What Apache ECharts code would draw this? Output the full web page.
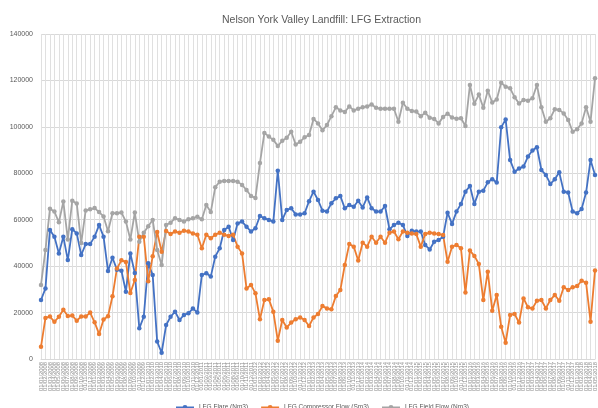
<!DOCTYPE html>
<html>
<head>
    <meta charset="UTF-8">
    <title>Nelson York Valley Landfill: LFG Extraction</title>
    <script src="https://cdn.jsdelivr.net/npm/echarts@6/dist/echarts.min.js"></script>
    <style>
        html, body { margin: 0; padding: 0; background: #fff; }
        #chart { width: 598px; height: 408px; }
    </style>
</head>
<body>
    <div id="chart"></div>
    <script>
        // values, one per category
        var flare = [
            25400, 30400, 55600, 52700, 45500, 52700, 42600, 55900, 54100, 44800,
            49500, 49500, 52700, 57700, 52700, 37900, 43600, 38500, 38000, 29000,
            45500, 37000, 13200, 18200, 41200, 36200, 7500, 2700, 14600, 18200,
            20400, 16800, 19000, 19700, 21800, 20000, 36200, 36900, 35500, 44100,
            47700, 55600, 57000, 51300, 58400, 59200, 57000, 54900, 56300, 61600,
            60600, 59900, 59200, 81100, 59900, 64200, 64900, 62300, 62300, 62800,
            68000, 72100, 68500, 63900, 63500, 67100, 69200, 70200, 64900, 66300,
            65600, 68200, 65300, 69600, 64900, 63500, 63500, 65900, 55900, 57700,
            58700, 57700, 53000, 55300, 54900, 54900, 49100, 47200, 50500, 51300,
            52700, 63000, 58200, 63500, 66800, 72100, 74500, 66800, 72100, 72500,
            76100, 77400, 76000, 99800, 103200, 85700, 80700, 82100, 82900, 87200,
            89800, 91200, 81400, 79300, 75400, 77400, 80400, 72100, 71700, 63500,
            62800, 64600, 71700, 85700, 79300
        ];
        var compressor = [
            5300, 17700, 18300, 16000, 18200, 21200, 18500, 18700, 16500, 18300,
            18300, 20000, 15800, 10800, 17000, 18400, 27000, 39000, 42500, 41800,
            28400, 34000, 52700, 52700, 33500, 44300, 54700, 46200, 55100, 53800,
            54900, 54400, 55300, 54900, 54100, 53500, 47700, 53500, 52000, 53500,
            54400, 53500, 53000, 53500, 48400, 45500, 30400, 31900, 28300, 17100,
            25400, 25700, 20400, 7900, 16800, 13600, 15700, 17100, 17900, 16800,
            14200, 17900, 19400, 22800, 21800, 21400, 27100, 29700, 40500, 49500,
            48400, 42400, 50100, 48400, 52700, 50100, 52700, 50100, 54400, 54900,
            51600, 54900, 54400, 54100, 53800, 48400, 53800, 54400, 54100, 53800,
            53400, 41900, 48400, 49100, 47700, 28600, 46700, 44400, 40900, 25400,
            37600, 20800, 27600, 13900, 7000, 19000, 19400, 15700, 26100, 22300,
            21800, 25100, 25400, 21800, 25400, 27600, 25100, 30900, 29700, 30900,
            31400, 33700, 32900, 16100, 38100
        ];
        var field = [
            31900, 47000, 64700, 63500, 58900, 67800, 51500, 68200, 67000, 50000,
            64000, 64500, 65000, 63300, 61400, 55000, 62800, 62800, 63100, 59200,
            51500, 63100, 50500, 54400, 57200, 59900, 47000, 40500, 57700, 58700,
            60600, 59900, 59200, 60200, 60600, 61300, 60200, 66300, 63300, 74000,
            76400, 76700, 76700, 76700, 76400, 75000, 72800, 70200, 69400, 84400,
            97400, 95800, 94400, 91800, 94000, 95300, 97900, 92400, 93600, 95500,
            96500, 103400, 101500, 98500, 100800, 104600, 108400, 107100, 106400, 108800,
            107100, 107800, 108500, 108800, 109600, 108200, 107800, 107800, 107800, 107800,
            102200, 110400, 107800, 106800, 106600, 104600, 106100, 103900, 103400, 101500,
            104300, 105700, 104000, 103500, 103700, 100400, 118000, 110000, 113900, 108200,
            115600, 110500, 111800, 119000, 117300, 116600, 112800, 110100, 111600, 111300,
            112300, 118000, 108400, 102200, 103700, 107600, 107300, 105800, 103000, 97900,
            99000, 101500, 108400, 102200, 120900
        ];
        var seriesNames = ['LFG Flare (Nm3)', 'LFG Compressor Flow (Sm3)', 'LFG Field Flow (Nm3)'];
        var colors = ['#4472C4', '#ED7D31', '#A5A5A5'];

        // month labels for the x axis (too small to read in the original)
        var dates = [];
        for (var i = 0; i < flare.length; i++) {
            var m = (i % 12) + 1;
            var y = 2008 + Math.floor(i / 12);
            dates.push('01/' + (m < 10 ? '0' + m : m) + '/' + y);
        }

        var chart = echarts.init(document.getElementById('chart'));

        function line(name, data, color) {
            return {
                name: name,
                type: 'line',
                data: data,
                symbol: 'circle',
                symbolSize: 4.5,
                lineStyle: { color: color, width: 1.8 },
                itemStyle: { color: color },
                animation: false
            };
        }

        var option = {
            backgroundColor: '#fff',
            title: {
                text: 'Nelson York Valley Landfill: LFG Extraction',
                left: 217,
                top: 10,
                textStyle: {
                    fontFamily: 'Liberation Sans',
                    fontSize: 10.5,
                    fontWeight: 'normal',
                    color: '#595959'
                }
            },
            legend: {
                data: seriesNames,
                left: 170,
                top: 399,
                itemWidth: 18,
                itemHeight: 6,
                itemGap: 12,
                textStyle: { fontFamily: 'Liberation Sans', fontSize: 6.5, color: '#595959' }
            },
            grid: { left: 41, right: 1, top: 34, bottom: 49 },
            xAxis: {
                type: 'category',
                data: dates,
                boundaryGap: false,
                axisLine: { lineStyle: { color: '#D9D9D9' } },
                axisTick: { show: false },
                splitLine: { show: true, interval: 0, lineStyle: { color: '#E0E0E0', width: 1 } },
                axisLabel: {
                    interval: 0,
                    rotate: 90,
                    fontSize: 5.8,
                    margin: 3,
                    color: '#8C8C8C',
                    fontFamily: 'Liberation Sans'
                }
            },
            yAxis: {
                type: 'value',
                min: 0,
                max: 140000,
                interval: 20000,
                axisLine: { show: false },
                axisTick: { show: false },
                splitLine: { lineStyle: { color: '#D9D9D9' } },
                axisLabel: {
                    fontSize: 7,
                    color: '#595959',
                    margin: 8,
                    fontFamily: 'Liberation Sans',
                    formatter: function (v) { return String(v); }
                }
            },
            series: [
                line(seriesNames[0], flare, colors[0]),
                line(seriesNames[1], compressor, colors[1]),
                line(seriesNames[2], field, colors[2])
            ]
        };
        chart.setOption(option);
    </script>
</body>
</html>
